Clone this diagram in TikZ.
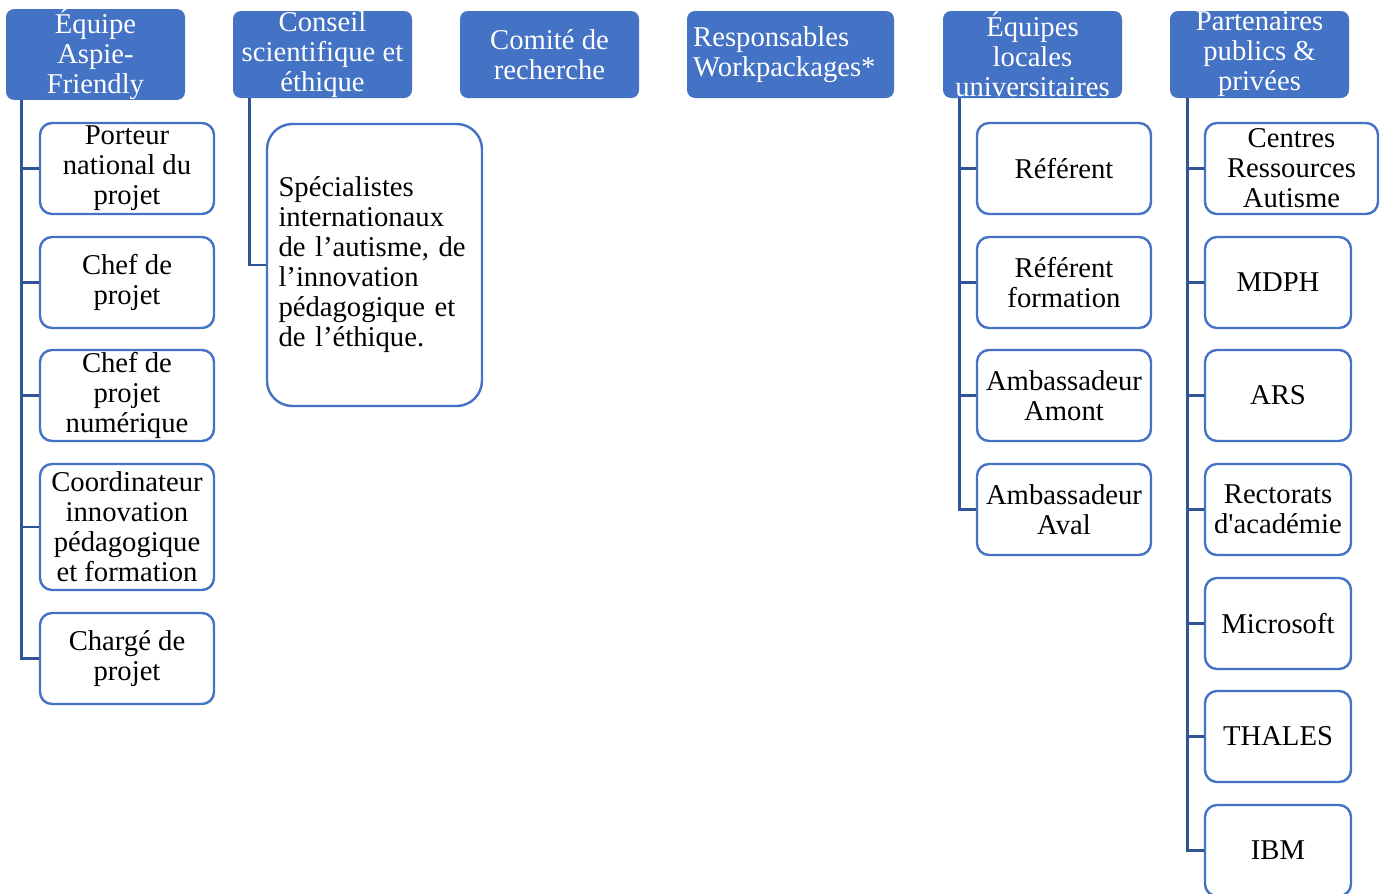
\documentclass[tikz,border=0pt]{standalone}
\usepackage{fontspec}
\setmainfont{Liberation Serif}
\definecolor{hdblue}{RGB}{68,114,196}
\definecolor{lnblue}{RGB}{47,85,151}
\tikzset{
  head/.style={fill=hdblue, draw=none, rounded corners=6pt, text=white, align=center,
    minimum width=134.25pt, minimum height=65.25pt, inner sep=0pt,
    font=\fontsize{21.5}{22.5}\selectfont},
  item/.style={fill=white, draw=hdblue, line width=1.8pt, rounded corners=9pt, align=center,
    minimum width=130.5pt, minimum height=68.25pt, inner sep=0pt,
    font=\fontsize{21.5}{22.5}\selectfont},
  link/.style={draw=lnblue, line width=1.9pt}
}
\begin{document}
\begin{tikzpicture}[x=0.75pt,y=0.75pt,yscale=-1,xscale=1]
\useasboundingbox (0,0) rectangle (1387,893);

% Heads
\node[head] (aspie) at (95.5,54.5) {Équipe\\Aspie-\\Friendly};
\node[head] (conseil) at (322.5,54.5) {Conseil\\scientifique et\\éthique};
\node[head] (comite) at (549.5,54.5) {Comité de\\recherche};
\node[head, minimum width=155.25pt, align=left, text width=146pt] (wp) at (790.5,54.5) {Responsables\\Workpackages*};
\node[head] (locales) at (1032.5,54.5) {Équipes\\locales\\universitaires};
\node[head] (partners) at (1259.5,54.5) {Partenaires\\publics \&\\privées};

% Équipe Aspie-Friendly
\node[item] (porteur) at (127,168.5) {Porteur\\national du\\projet};
\node[item] (chef) at (127,282.5) {Chef de\\projet};
\node[item] (chefnum) at (127,395.5) {Chef de\\projet\\numérique};
\node[item, minimum height=94.5pt] (coord) at (127,527) {Coordinateur\\innovation\\pédagogique\\et formation};
\node[item] (charge) at (127,658.5) {Chargé de\\projet};

% Conseil
\node[item, rounded corners=19pt, minimum width=161.25pt, minimum height=211.5pt, align=left, text width=144pt] (specs) at (374.5,265)
  {Spécialistes\\internationaux\\de l’autisme, de\\l’innovation\\pédagogique et\\de l’éthique.};

% Équipes locales
\node[item] (ref) at (1064,168.5) {Référent};
\node[item] (refform) at (1064,282.5) {Référent\\formation};
\node[item] (amont) at (1064,395.5) {Ambassadeur\\Amont};
\node[item] (aval) at (1064,509.5) {Ambassadeur\\Aval};

% Partenaires
\node[item, minimum width=129.75pt] (cra) at (1291.5,168.5) {Centres\\Ressources\\Autisme};
\node[item, minimum width=109.5pt] (mdph) at (1278,282.5) {MDPH};
\node[item, minimum width=109.5pt] (ars) at (1278,395.5) {ARS};
\node[item, minimum width=109.5pt] (rect) at (1278,509.5) {Rectorats\\d\textquotesingle académie};
\node[item, minimum width=109.5pt] (ms) at (1278,623.5) {Microsoft};
\node[item, minimum width=109.5pt] (thales) at (1278,736.5) {THALES};
\node[item, minimum width=109.5pt] (ibm) at (1278,850.5) {IBM};

% Connectors
\foreach \c in {porteur,chef,chefnum,coord,charge}
  \draw[link] ([xshift=12pt]aspie.south west) |- (\c.west);
\draw[link] ([xshift=12.75pt]conseil.south west) |- (specs.west);
\foreach \c in {ref,refform,amont,aval}
  \draw[link] ([xshift=12.75pt]locales.south west) |- (\c.west);
\foreach \c in {cra,mdph,ars,rect,ms,thales,ibm}
  \draw[link] ([xshift=13.5pt]partners.south west) |- (\c.west);
\end{tikzpicture}
\end{document}
